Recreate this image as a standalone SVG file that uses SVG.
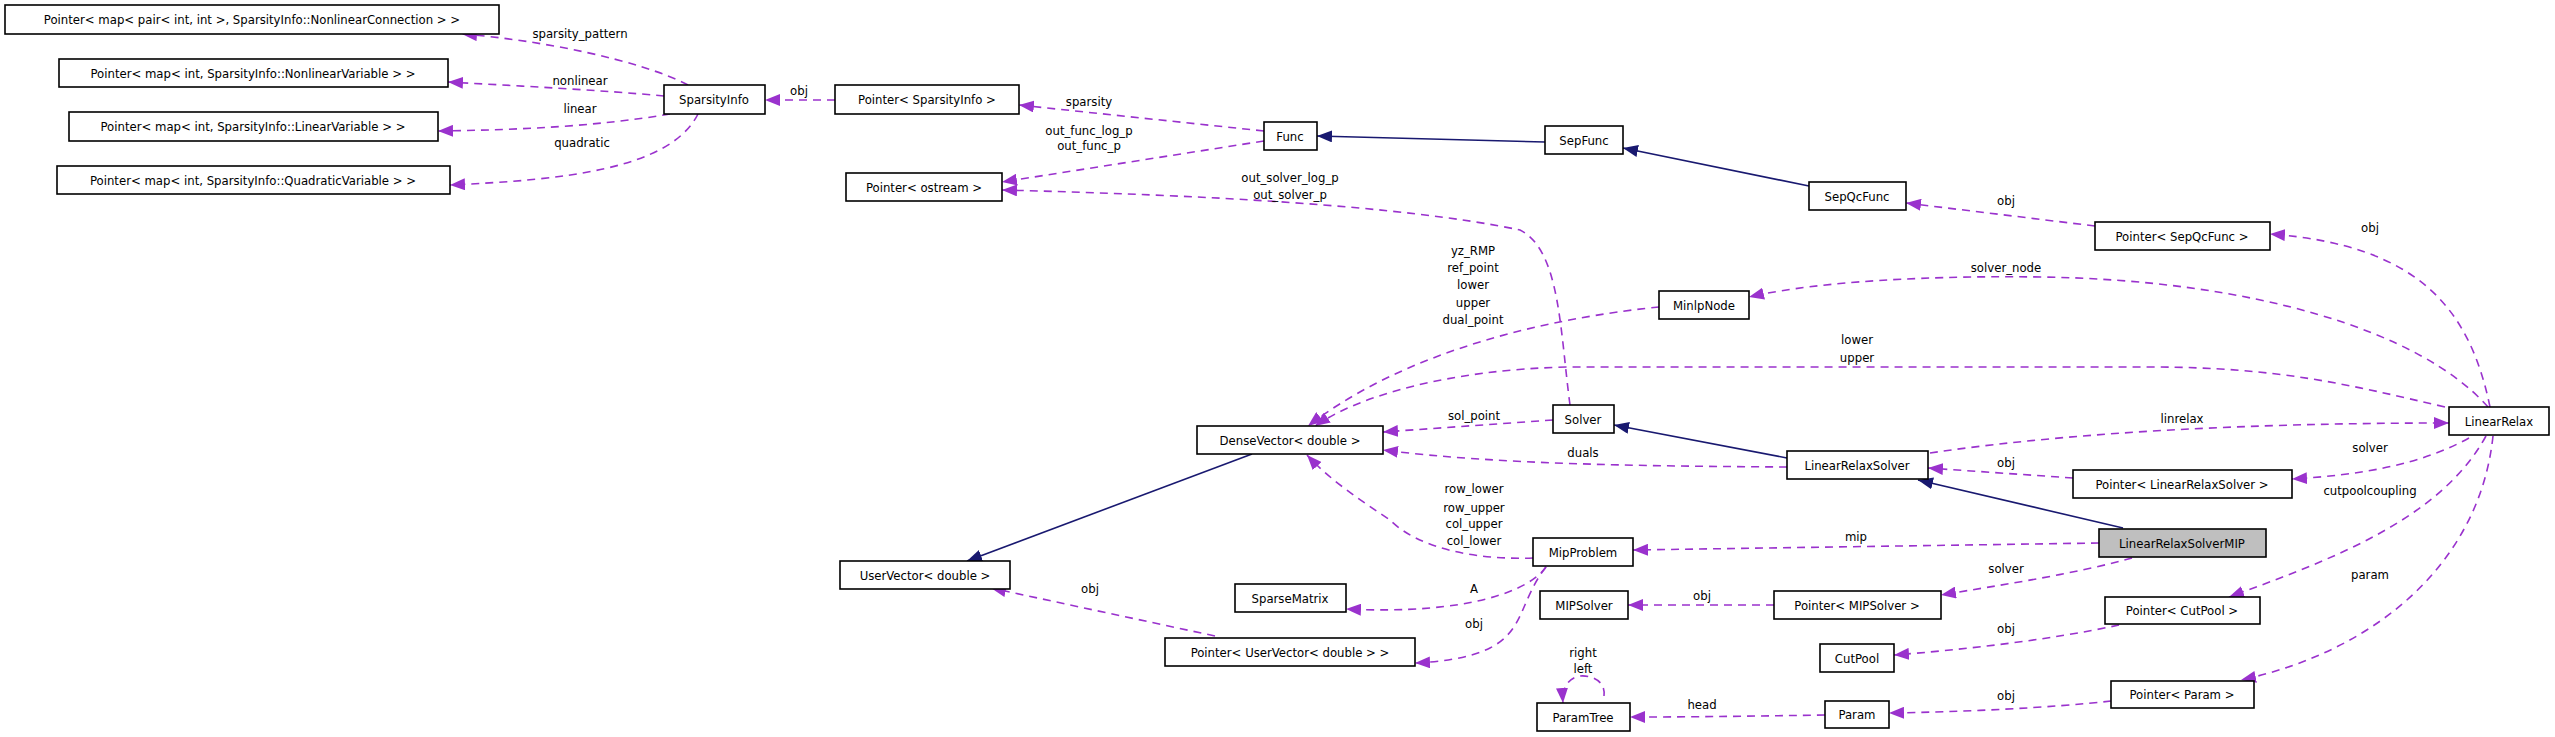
<svg xmlns="http://www.w3.org/2000/svg" width="2555" height="737" viewBox="0 0 2555 737">
<style>
.n rect{fill:#fff;stroke:#000;stroke-width:1.6}
.n text,.l{font-family:"DejaVu Sans Condensed","DejaVu Sans",sans-serif;font-size:13px;fill:#000;text-anchor:middle}
.d{fill:none;stroke:#9a32cd;stroke-width:1.6;stroke-dasharray:8,6;marker-end:url(#ap)}
.s{fill:none;stroke:#191970;stroke-width:1.6;marker-end:url(#ab)}
</style>
<defs>
<marker id="ap" markerUnits="userSpaceOnUse" markerWidth="16" markerHeight="12" refX="15" refY="6" orient="auto"><path d="M0,0L15,6L0,12z" fill="#9a32cd"/></marker>
<marker id="ab" markerUnits="userSpaceOnUse" markerWidth="16" markerHeight="12" refX="15" refY="6" orient="auto"><path d="M0,0L15,6L0,12z" fill="#191970"/></marker>
</defs>
<rect width="2555" height="737" fill="#fff"/>
<g id="connectors">
<path class="d" d="M688,85 C640,60 540,40 462,34"/>
<path class="d" d="M664,96 C600,90 520,86 448,82"/>
<path class="d" d="M670,114 C600,126 520,130 438,131"/>
<path class="d" d="M698,114 C670,170 560,180 450,185"/>
<path class="d" d="M835,100 L765,100"/>
<path class="d" d="M1264,131 L1019,105"/>
<path class="d" d="M1264,141 L1002,182"/>
<path class="d" d="M1570,405 C1560,330 1560,250 1520,230 C1400,205 1200,195 1002,190"/>
<path class="s" d="M1545,142 L1317,136"/>
<path class="s" d="M1809,186 L1623,148"/>
<path class="d" d="M2095,226 L1906,203"/>
<path class="d" d="M2490,407 C2470,310 2420,245 2270,234"/>
<path class="d" d="M2488,407 C2420,330 2250,280 2041,277 C1900,275 1800,285 1749,297"/>
<path class="d" d="M2445,407 C2350,385 2280,367 2150,367 L1566,367 C1450,370 1360,395 1315,426"/>
<path class="d" d="M1659,307 C1580,315 1420,340 1308,426"/>
<path class="d" d="M1553,420 L1383,432"/>
<path class="d" d="M1787,467 C1650,466 1500,465 1383,450"/>
<path class="s" d="M1787,458 L1614,425"/>
<path class="s" d="M1252,454 L967,561"/>
<path class="d" d="M1533,558 C1480,560 1420,550 1390,520 C1360,500 1330,480 1307,455"/>
<path class="d" d="M1546,567 C1530,590 1470,615 1346,609"/>
<path class="d" d="M1546,567 C1520,600 1525,630 1490,648 C1470,658 1440,662 1415,663"/>
<path class="d" d="M1215,636 L991,588"/>
<path class="d" d="M2099,543 L1633,550"/>
<path class="s" d="M2123,528 L1918,480"/>
<path class="d" d="M2132,558 C2070,575 2000,585 1941,595"/>
<path class="d" d="M1774,605 L1628,605"/>
<path class="d" d="M1930,453 C2100,428 2300,423 2449,423"/>
<path class="d" d="M2073,478 L1928,468"/>
<path class="d" d="M2469,438 C2420,465 2360,475 2292,479"/>
<path class="d" d="M2486,436 C2440,520 2330,560 2229,597"/>
<path class="d" d="M2493,436 C2480,560 2380,650 2241,680"/>
<path class="d" d="M2119,625 C2050,640 1960,650 1894,655"/>
<path class="d" d="M2111,701 C2050,708 1960,712 1889,713"/>
<path class="d" d="M1825,715 C1760,716 1700,717 1630,717"/>
<path class="d" d="M1604,696 C1606,680 1590,675 1580,676 C1568,678 1562,688 1563,703"/>
</g>
<g class="l">
<text class="l" x="580" y="38">sparsity_pattern</text>
<text class="l" x="580" y="85">nonlinear</text>
<text class="l" x="580" y="113">linear</text>
<text class="l" x="582" y="147">quadratic</text>
<text class="l" x="799" y="95">obj</text>
<text class="l" x="1089" y="106">sparsity</text>
<text class="l" x="1089" y="135">out_func_log_p</text>
<text class="l" x="1089" y="150">out_func_p</text>
<text class="l" x="1290" y="182">out_solver_log_p</text>
<text class="l" x="1290" y="199">out_solver_p</text>
<text class="l" x="2006" y="205">obj</text>
<text class="l" x="2370" y="232">obj</text>
<text class="l" x="2006" y="272">solver_node</text>
<text class="l" x="1857" y="344">lower</text>
<text class="l" x="1857" y="362">upper</text>
<text class="l" x="1473" y="255">yz_RMP</text>
<text class="l" x="1473" y="272">ref_point</text>
<text class="l" x="1473" y="289">lower</text>
<text class="l" x="1473" y="307">upper</text>
<text class="l" x="1473" y="324">dual_point</text>
<text class="l" x="1474" y="420">sol_point</text>
<text class="l" x="1583" y="457">duals</text>
<text class="l" x="1474" y="493">row_lower</text>
<text class="l" x="1474" y="512">row_upper</text>
<text class="l" x="1474" y="528">col_upper</text>
<text class="l" x="1474" y="545">col_lower</text>
<text class="l" x="1474" y="593">A</text>
<text class="l" x="1474" y="628">obj</text>
<text class="l" x="1090" y="593">obj</text>
<text class="l" x="1856" y="541">mip</text>
<text class="l" x="2006" y="573">solver</text>
<text class="l" x="1702" y="600">obj</text>
<text class="l" x="2182" y="423">linrelax</text>
<text class="l" x="2006" y="467">obj</text>
<text class="l" x="2370" y="452">solver</text>
<text class="l" x="2370" y="495">cutpoolcoupling</text>
<text class="l" x="2370" y="579">param</text>
<text class="l" x="2006" y="633">obj</text>
<text class="l" x="2006" y="700">obj</text>
<text class="l" x="1702" y="709">head</text>
<text class="l" x="1583" y="657">right</text>
<text class="l" x="1583" y="673">left</text>
</g>
<g id="n1" class="n"><rect x="5" y="5" width="494" height="29"/><text x="252" y="24">Pointer&lt; map&lt; pair&lt; int, int &gt;, SparsityInfo::NonlinearConnection &gt; &gt;</text></g>
<g id="n2" class="n"><rect x="59" y="59" width="389" height="28"/><text x="253" y="78">Pointer&lt; map&lt; int, SparsityInfo::NonlinearVariable &gt; &gt;</text></g>
<g id="n3" class="n"><rect x="69" y="112" width="369" height="29"/><text x="253" y="131">Pointer&lt; map&lt; int, SparsityInfo::LinearVariable &gt; &gt;</text></g>
<g id="n4" class="n"><rect x="57" y="166" width="393" height="28"/><text x="253" y="185">Pointer&lt; map&lt; int, SparsityInfo::QuadraticVariable &gt; &gt;</text></g>
<g id="sparsityinfo" class="n"><rect x="664" y="85" width="101" height="29"/><text x="714" y="104">SparsityInfo</text></g>
<g id="psparsity" class="n"><rect x="835" y="85" width="184" height="29"/><text x="927" y="104">Pointer&lt; SparsityInfo &gt;</text></g>
<g id="postream" class="n"><rect x="846" y="173" width="156" height="28"/><text x="924" y="192">Pointer&lt; ostream &gt;</text></g>
<g id="func" class="n"><rect x="1264" y="122" width="53" height="28"/><text x="1290" y="141">Func</text></g>
<g id="sepfunc" class="n"><rect x="1545" y="126" width="78" height="28"/><text x="1584" y="145">SepFunc</text></g>
<g id="sepqcfunc" class="n"><rect x="1809" y="182" width="97" height="28"/><text x="1857" y="201">SepQcFunc</text></g>
<g id="psepqc" class="n"><rect x="2095" y="222" width="175" height="28"/><text x="2182" y="241">Pointer&lt; SepQcFunc &gt;</text></g>
<g id="minlpnode" class="n"><rect x="1659" y="291" width="90" height="28"/><text x="1704" y="310">MinlpNode</text></g>
<g id="solver" class="n"><rect x="1553" y="405" width="61" height="28"/><text x="1583" y="424">Solver</text></g>
<g id="densevector" class="n"><rect x="1197" y="426" width="186" height="28"/><text x="1290" y="445">DenseVector&lt; double &gt;</text></g>
<g id="linearrelaxsolver" class="n"><rect x="1787" y="451" width="141" height="28"/><text x="1857" y="470">LinearRelaxSolver</text></g>
<g id="linearrelax" class="n"><rect x="2449" y="407" width="100" height="28"/><text x="2499" y="426">LinearRelax</text></g>
<g id="plrs" class="n"><rect x="2073" y="470" width="219" height="28"/><text x="2182" y="489">Pointer&lt; LinearRelaxSolver &gt;</text></g>
<g id="lrsmip" class="n"><rect x="2099" y="529" width="167" height="28" style="fill:#bfbfbf"/><text x="2182" y="548">LinearRelaxSolverMIP</text></g>
<g id="uservector" class="n"><rect x="840" y="561" width="170" height="28"/><text x="925" y="580">UserVector&lt; double &gt;</text></g>
<g id="sparsematrix" class="n"><rect x="1235" y="584" width="111" height="28"/><text x="1290" y="603">SparseMatrix</text></g>
<g id="puservector" class="n"><rect x="1165" y="638" width="250" height="28"/><text x="1290" y="657">Pointer&lt; UserVector&lt; double &gt; &gt;</text></g>
<g id="mipproblem" class="n"><rect x="1533" y="538" width="100" height="28"/><text x="1583" y="557">MipProblem</text></g>
<g id="mipsolver" class="n"><rect x="1540" y="591" width="88" height="28"/><text x="1584" y="610">MIPSolver</text></g>
<g id="pmipsolver" class="n"><rect x="1774" y="591" width="167" height="28"/><text x="1857" y="610">Pointer&lt; MIPSolver &gt;</text></g>
<g id="pcutpool" class="n"><rect x="2105" y="597" width="155" height="27"/><text x="2182" y="615">Pointer&lt; CutPool &gt;</text></g>
<g id="cutpool" class="n"><rect x="1820" y="644" width="74" height="28"/><text x="1857" y="663">CutPool</text></g>
<g id="pparam" class="n"><rect x="2111" y="681" width="143" height="27"/><text x="2182" y="699">Pointer&lt; Param &gt;</text></g>
<g id="param" class="n"><rect x="1825" y="701" width="64" height="27"/><text x="1857" y="719">Param</text></g>
<g id="paramtree" class="n"><rect x="1537" y="703" width="93" height="28"/><text x="1583" y="722">ParamTree</text></g>
</svg>
